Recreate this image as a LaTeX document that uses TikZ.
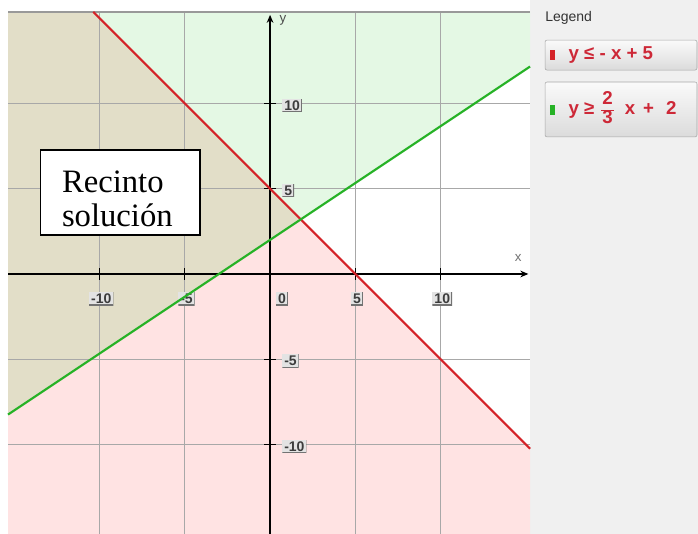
\documentclass[tikz,border=0pt]{standalone}
\usepackage{fontspec}
\setmainfont{Liberation Serif}
\setsansfont{Liberation Sans}
\usetikzlibrary{arrows.meta,positioning}
\definecolor{plpink}{RGB}{255,227,227}
\definecolor{plgreen}{RGB}{228,248,228}
\definecolor{plbeige}{RGB}{226,222,200}
\definecolor{plred}{RGB}{212,34,40}
\definecolor{plgreenln}{RGB}{38,178,38}
\definecolor{plgrid}{RGB}{168,168,168}
\definecolor{plpanel}{RGB}{240,240,240}
\definecolor{pltext}{RGB}{60,60,60}
\definecolor{pllegred}{RGB}{205,40,55}

\begin{document}
\begin{tikzpicture}[x=12.79pt,y=12.79pt,
  ticklab/.style={fill=black!11,text=pltext,font=\sffamily\bfseries\fontsize{10.5}{11}\selectfont,inner xsep=1.5pt,inner ysep=1.2pt,
    path picture={\draw[black!55,line width=1.2pt] (path picture bounding box.south west) -- (path picture bounding box.south east) -- (path picture bounding box.north east);}},
  legbox/.style={draw=black!35,rounded corners=1.5pt,top color=black!2,bottom color=black!14,minimum width=114pt},
  legtext/.style={text=pllegred,font=\sffamily\bfseries\fontsize{14}{15}\selectfont,anchor=west,inner sep=0pt}]
  \useasboundingbox (-15.84,-15.25) rectangle (25.10,16.07);
  \fill[white] (-15.84,-15.25) rectangle (25.10,16.07);
  \fill[plpanel] (15.25,-15.25) rectangle (25.10,16.07);
  % regions
  \fill[plpink] (-15.37,-15.25) -- (-15.37,15.37) -- (-10.37,15.37) -- (15.25,-10.25) -- (15.25,-15.25) -- cycle;
  \fill[plgreen] (-15.37,-8.247) -- (15.25,12.167) -- (15.25,15.37) -- (-15.37,15.37) -- cycle;
  \fill[plbeige] (-15.37,-8.247) -- (1.8,3.2) -- (-10.37,15.37) -- (-15.37,15.37) -- cycle;
  % grid
  \foreach \g in {-10,-5,5,10}{
    \draw[plgrid,line width=0.7pt] (\g,-15.25) -- (\g,15.37);
    \draw[plgrid,line width=0.7pt] (-15.37,\g) -- (15.25,\g);
  }
  \draw[black!40,line width=1pt] (-15.37,15.37) -- (15.25,15.37);
  % axes
  \coordinate (xa) at (-15.37,0);
  \coordinate (xb) at (15.15,0);
  \coordinate (ya) at (0,-15.25);
  \coordinate (yb) at (0,15.2);
  \draw[line width=1.3pt,-{Stealth[length=6pt,width=5pt]}] (xa) -- (xb);
  \draw[line width=1.3pt,-{Stealth[length=6pt,width=5pt]}] (ya) -- (yb);
  \foreach \t in {-10,-5,5,10}{
    \draw[line width=1pt] (\t,-0.35) -- (\t,0.35);
    \draw[line width=1pt] (-0.35,\t) -- (0.35,\t);
    \node[ticklab] (xl\t) at (\t+0.1,-1.45) {\t};
    \node[ticklab,anchor=west] (yl\t) at (0.7,\t-0.1) {\t};
  }
  \node[ticklab] (xl0) at (0.7,-1.45) {0};
  \node[text=black!55,font=\sffamily\fontsize{10}{11}\selectfont] (xlab) at (14.55,0.94) {x};
  \node[text=black!70,font=\sffamily\fontsize{10}{11}\selectfont] (ylab) at (0.76,14.9) {y};
  % boundary lines
  \draw[plred,line width=1.6pt] (-10.37,15.37) -- (15.25,-10.25);
  \draw[plgreenln,line width=1.6pt] (-15.37,-8.247) -- (15.25,12.167);
  % solution label
  \node[draw=black,fill=white,line width=0.8pt,minimum width=120pt,minimum height=63.75pt,text width=87pt,inner xsep=16.5pt,inner ysep=0pt,align=left,
    font=\fontsize{24.5}{25.5}\selectfont] (recinto) at (-8.80,4.78) {\rule{0pt}{26pt}Recinto\\solución};
  % legend
  \node[text=black!80,font=\sffamily\fontsize{10.5}{12}\selectfont,anchor=west,inner sep=0pt] (legtitle) at (16.13,15.05) {Legend};
  \node[legbox,minimum height=22.5pt] (leg1) at (20.585,12.84) {};
  \node[legbox,minimum height=41.2pt] (leg2) at (20.585,9.65) {};
  \node[fill=plred,minimum width=3.75pt,minimum height=7.5pt,inner sep=0pt] (mk1) at (16.57,12.84) {};
  \node[fill=plgreenln,minimum width=3.75pt,minimum height=7.5pt,inner sep=0pt] (mk2) at (16.57,9.62) {};
  \node[legtext] (eq1) at (17.5,12.84) {y ≤ - x + 5};
  \node[legtext] (eq2) at (17.5,9.62) {y ≥\hspace{5pt}{\color{pllegred}\setlength\tabcolsep{1pt}\renewcommand\arraystretch{0.85}\begin{tabular}{c}2\\\hline 3\end{tabular}}\hspace{8pt}x\hspace{6pt}+\hspace{9pt}2};
\end{tikzpicture}
\end{document}
